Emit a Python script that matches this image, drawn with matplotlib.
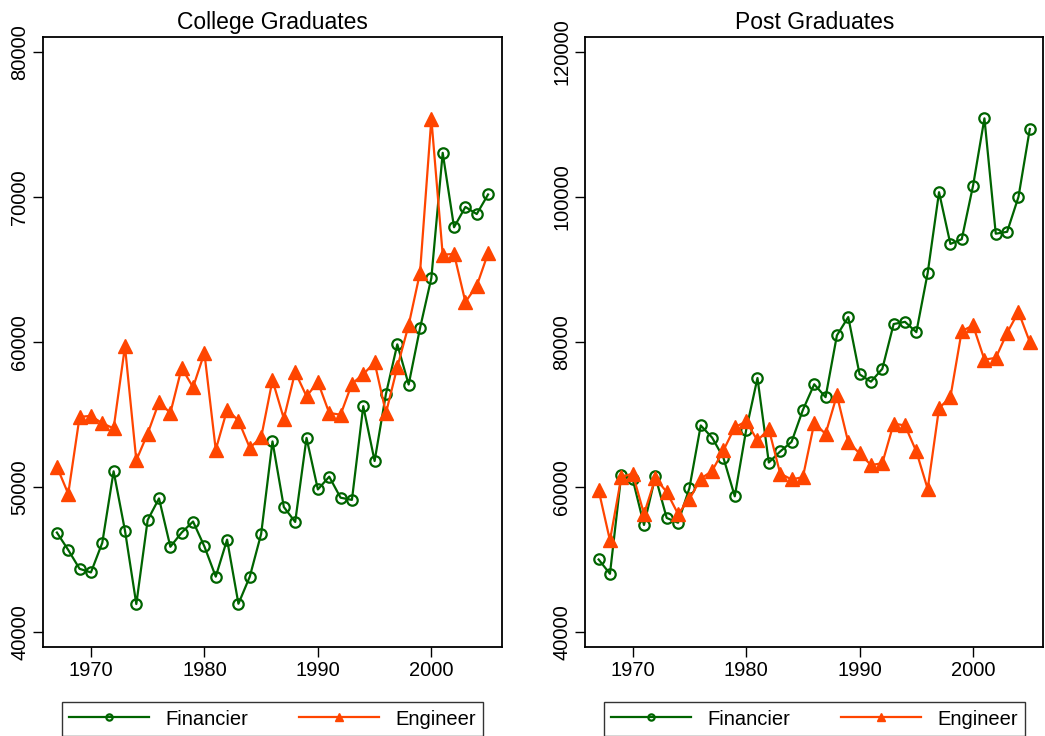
import numpy as np
import matplotlib
matplotlib.use("Agg")
import matplotlib.pyplot as plt

plt.rcParams['font.family'] = ['Liberation Sans', 'DejaVu Sans']

years = np.arange(1967, 2006)

# College graduates
col_fin = [46870, 45670, 44370, 44120, 46160, 51090, 47010, 41940, 47730, 49220,
           45890, 46870, 47630, 45910, 43830, 46380, 41960, 43830, 46770, 53150,
           48630, 47600, 53390, 49840, 50720, 49270, 49120, 55580, 51800, 56430,
           59840, 57070, 60950, 64410, 73040, 67910, 69310, 68820, 70170]
col_eng = [51410, 49540, 54840, 54910, 54400, 54050, 59700, 51850, 53690, 55850,
           55110, 58220, 56880, 59250, 52580, 55330, 54590, 52710, 53420, 57370,
           54720, 57930, 56260, 57240, 55110, 54990, 57120, 57780, 58590, 55110,
           58270, 61170, 64770, 75390, 66020, 66070, 62760, 63870, 66120]

# Post graduates
post_fin = [50025, 48050, 61720, 61110, 54780, 61470, 55750, 55090, 59850, 68500,
            66830, 64050, 58730, 67850, 75040, 63390, 64910, 66230, 70630, 74175,
            72400, 80910, 83440, 75540, 74530, 76300, 82480, 82780, 81360, 89520,
            100650, 93520, 94170, 101570, 110830, 94930, 95190, 100000, 109360]
post_eng = [59590, 52660, 61370, 61870, 56300, 61210, 59340, 56300, 58330, 61160,
            62230, 65060, 68250, 69060, 66430, 68000, 61870, 61060, 61370, 68810,
            67340, 72660, 66180, 64660, 63040, 63290, 68760, 68500, 64910, 59750,
            70880, 72400, 81520, 82280, 77570, 77820, 81260, 84150, 80000]

titles = ["College Graduates", "Post Graduates"]
yticks = [[40000, 50000, 60000, 70000, 80000],
          [40000, 60000, 80000, 100000, 120000]]
ylims = [(39000, 81000), (38000, 122000)]
xticks = [1970, 1980, 1990, 2000]

green = '#006400'
orange = '#FF4500'

fig = plt.figure(figsize=(10.45, 7.36), dpi=100)
ax1 = fig.add_axes([0.0414, 0.1213, 0.4387, 0.828])
ax2 = fig.add_axes([0.5598, 0.1213, 0.4387, 0.828])

data = [(col_fin, col_eng), (post_fin, post_eng)]

for i, ax in enumerate([ax1, ax2]):
    fin, eng = data[i]
    ax.plot(years, fin, color=green, lw=1.6, marker='o', ms=7.5,
            mfc='none', mec=green, mew=1.6, label='Financier')
    ax.plot(years, eng, color=orange, lw=1.6, marker='^', ms=10,
            mfc=orange, mec=orange, label='Engineer')
    ax.set_xlim(1965.8, 2006.2)
    ax.set_ylim(*ylims[i])
    ax.set_xticks(xticks)
    ax.set_yticks(yticks[i])
    ax.set_yticklabels([str(v) for v in yticks[i]], rotation=90, va='center')
    ax.tick_params(direction='out', length=7, width=1, labelsize=14.5, pad=3)
    ax.set_title(titles[i], fontsize=16.5, pad=6)
    for s in ax.spines.values():
        s.set_linewidth(1.3)
    leg = ax.legend(loc='upper center', bbox_to_anchor=(0.5, -0.075), ncol=2,
                    frameon=True, fancybox=False, edgecolor='black',
                    fontsize=14.5, handlelength=4, columnspacing=2.5,
                    borderpad=0.35, handletextpad=0.8, markerscale=0.6)
    leg.get_frame().set_linewidth(1.0)

fig.savefig('out.png', dpi=100)
